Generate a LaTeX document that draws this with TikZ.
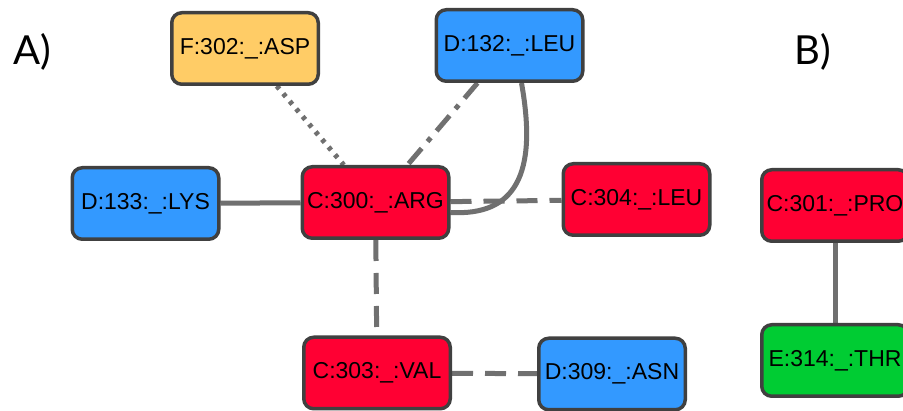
\documentclass[tikz,border=0pt]{standalone}
\usepackage{fontspec}
\setmainfont{Liberation Sans}
\newfontfamily\lblfont{Lato}
\usetikzlibrary{backgrounds}
\definecolor{nblue}{HTML}{3399FF}
\definecolor{nred}{HTML}{FF0033}
\definecolor{nyellow}{HTML}{FFCC66}
\definecolor{ngreen}{HTML}{00CC33}
\definecolor{nborder}{HTML}{404040}
\definecolor{edgegray}{HTML}{707070}
\begin{document}
\begin{tikzpicture}[x=1pt,y=-1pt,
  resbox/.style={draw=nborder, line width=3.5pt, rounded corners=10pt,
    minimum width=146.5pt, minimum height=71.5pt, inner sep=0pt,
    font=\fontsize{23}{27}\selectfont},
  bluebox/.style={resbox, fill=nblue},
  redbox/.style={resbox, fill=nred},
  yellowbox/.style={resbox, fill=nyellow},
  greenbox/.style={resbox, fill=ngreen},
  edge/.style={draw=edgegray, line width=5pt},
  dashedge/.style={edge, dash pattern=on 21pt off 12pt},
  dotedge/.style={edge, dash pattern=on 4pt off 6pt},
  dashdotedge/.style={edge, dash pattern=on 20pt off 9pt on 5pt off 9pt},
  panel/.style={font=\lblfont\fontsize{40}{44}\selectfont}
]
\clip (0,0) rectangle (903,411);

\node[panel] (labA) at (32,52) {A)};
\node[panel] (labB) at (813,52) {B)};

\node[yellowbox] (F302) at (245,48.5) {F:302:\_:ASP};
\node[bluebox] (D132) at (509.5,45.5) {D:132:\_:LEU};
\node[bluebox] (D133) at (145.5,203.5) {D:133:\_:LYS};
\node[redbox] (C300) at (375.5,202.5) {C:300:\_:ARG};
\node[redbox] (C304) at (636.5,199.5) {C:304:\_:LEU};
\node[redbox] (C303) at (377,373) {C:303:\_:VAL};
\node[bluebox] (D309) at (612,374) {D:309:\_:ASN};
\node[redbox] (C301) at (835,205.5) {C:301:\_:PRO};
\node[greenbox] (E314) at (835,360.5) {E:314:\_:THR};

\begin{scope}[on background layer]
\fill[white] (0,0) rectangle (903,411);
\draw[dotedge] (F302) -- (C300);
\draw[dashdotedge] (D132) -- (C300);
\draw[edge] ([xshift=12pt]D132.south) .. controls (538,175) and (515,216) .. ([yshift=-10pt]C300.east);
\draw[dashedge] (C300) -- (C304);
\draw[edge] (D133) -- (C300);
\draw[dashedge] (C300) -- (C303);
\draw[dashedge] (C303) -- (D309);
\draw[edge] (C301) -- (E314);
\end{scope}
\end{tikzpicture}
\end{document}
